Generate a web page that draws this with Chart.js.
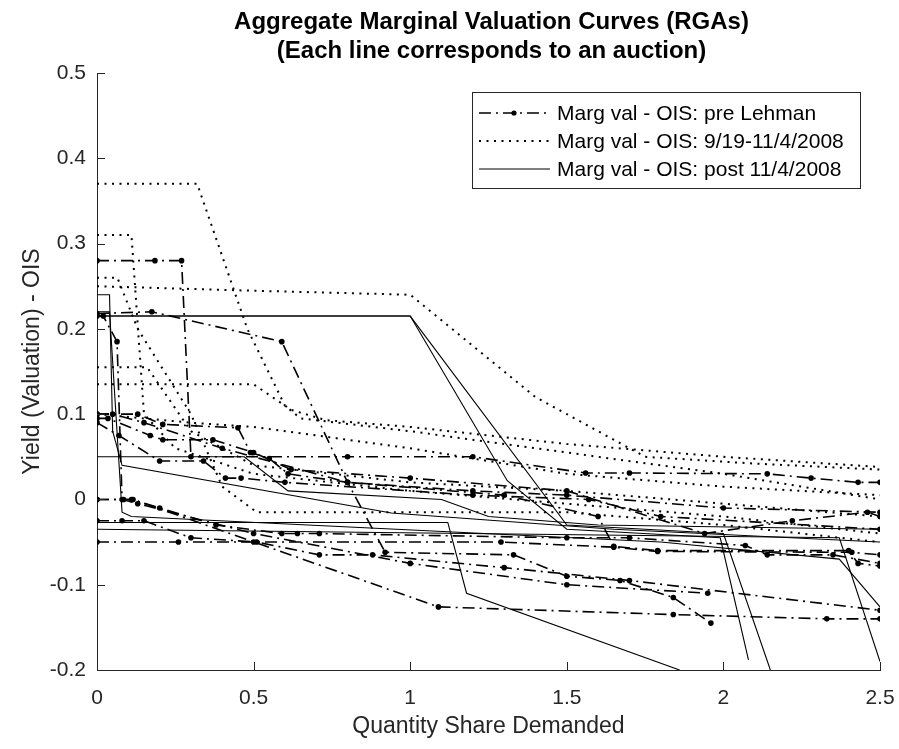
<!DOCTYPE html>
<html>
<head>
<meta charset="utf-8">
<script src="https://cdn.jsdelivr.net/npm/chart.js@4.4.1/dist/chart.umd.min.js"></script>
<style>
  html, body { margin: 0; padding: 0; background: #fff; }
  #wrap { width: 899px; height: 749px; }
</style>
</head>
<body>
<div id="wrap"><canvas id="chart" width="899" height="749"></canvas></div>
<script>
// axis ticks
const xTicks = [0, 0.5, 1, 1.5, 2, 2.5];
const yTicks = [-0.2, -0.1, 0, 0.1, 0.2, 0.3, 0.4, 0.5];

const legendLabels = [
  "Marg val - OIS: pre Lehman",
  "Marg val - OIS: 9/19-11/4/2008",
  "Marg val - OIS: post 11/4/2008"
];

// pre Lehman auctions (dash-dot with points)
const pre1 = [[0,0.28],[0.185,0.28],[0.27,0.28],[0.3,0.05],[0.8,0.05],[1.2,0.05],[1.56,0.031],[1.7,0.031],[2.14,0.03],[2.28,0.025],[2.43,0.02],[2.5,0.02]];
const pre2 = [[0,0.218],[0.175,0.22],[0.59,0.185],[0.8,0.02],[0.92,-0.062],[1.33,-0.065],[1.5,-0.09],[1.67,-0.095],[1.84,-0.115],[1.96,-0.145]];
const pre3 = [[0,0.215],[0.02,0.215],[0.064,0.185],[0.08,0.0],[0.13,-0.005],[0.5,-0.04],[1.0,-0.075],[1.5,-0.1],[1.95,-0.11]];
const pre4 = [[0,0.1],[0.13,0.1],[0.21,0.088],[0.45,0.084],[0.49,0.055],[0.55,0.048],[0.61,0.03],[0.8,0.02],[1.2,0.01],[1.5,0.005],[2.0,-0.01],[2.5,-0.015]];
const pre5 = [[0,0.095],[0.035,0.095],[0.17,0.075],[0.21,0.07],[0.37,0.07],[0.5,0.055],[0.62,0.035],[1.0,0.025],[1.5,0.01],[1.94,-0.04],[2.22,-0.025],[2.46,-0.015],[2.5,-0.02]];
const pre6 = [[0,0.09],[0.07,0.075],[0.2,0.045],[0.34,0.045],[0.41,0.025],[0.46,0.025],[0.6,0.02],[1.2,0.005],[1.57,0.0],[1.8,-0.02],[2.5,-0.035]];
const pre7 = [[0,0.0],[0.085,0.0],[0.115,0.0],[1.09,-0.126],[1.84,-0.135],[2.33,-0.14],[2.5,-0.14]];
const pre8 = [[0,-0.025],[0.08,-0.025],[0.15,-0.025],[0.3,-0.045],[0.51,-0.05],[0.71,-0.065],[0.88,-0.065],[1.3,-0.08],[1.7,-0.095],[2.5,-0.13]];
const pre9 = [[0,-0.05],[0.26,-0.05],[0.5,-0.05],[1.29,-0.05],[1.65,-0.056],[1.79,-0.061],[2.41,-0.062],[2.5,-0.065]];
const pre10 = [[0,0.0],[0.11,0.0],[0.2,-0.01],[0.38,-0.03],[0.59,-0.04],[0.64,-0.04],[0.71,-0.04],[1.5,-0.045],[1.7,-0.045],[2.07,-0.054],[2.14,-0.065],[2.35,-0.065],[2.5,-0.075]];
const pre11 = [[0,0.1],[0.05,0.1],[0.15,0.09],[0.4,0.06],[0.8,0.02],[1.3,0.005],[1.6,-0.02],[1.65,-0.055],[1.79,-0.06],[2.4,-0.06],[2.43,-0.075],[2.5,-0.078]];

// 9/19 - 11/4/2008 auctions (dotted)
const mid1 = [[0,0.37],[0.32,0.37],[0.48,0.2],[0.6,0.11],[0.65,0.095],[1.0,0.08],[1.5,0.055],[2.0,0.03],[2.5,0.0]];
const mid2 = [[0,0.25],[0.47,0.245],[1.0,0.24],[1.1,0.21],[1.4,0.12],[1.75,0.05],[2.1,0.042],[2.5,0.035]];
const mid3 = [[0,0.31],[0.11,0.31],[0.15,0.1],[0.25,0.06],[0.5,0.03],[1.0,0.01],[1.5,-0.005],[2.0,-0.02],[2.5,-0.04]];
const mid4 = [[0,0.26],[0.065,0.26],[0.13,0.2],[0.3,0.1],[0.4,0.015],[0.51,-0.015],[1.5,-0.015],[2.0,-0.03],[2.5,-0.05]];
const mid5 = [[0,0.155],[0.16,0.155],[0.3,0.08],[0.5,0.04],[1.0,0.02],[1.5,0.01],[2.0,-0.005],[2.5,-0.02]];
const mid6 = [[0,0.135],[0.5,0.135],[0.62,0.105],[0.73,0.093],[1.0,0.085],[1.5,0.065],[2.0,0.05],[2.5,0.038]];
const mid7 = [[0,0.1],[0.3,0.09],[0.5,0.085],[1.0,0.06],[1.5,0.03],[2.0,0.015],[2.5,0.005]];

// post 11/4/2008 auctions (solid)
const post1 = [[0,0.24],[0.04,0.24],[0.05,0.08],[0.08,0.04],[0.94,-0.016],[1.65,-0.035],[2.5,-0.05]];
const post2 = [[0,0.05],[0.47,0.05],[0.61,0.01],[1.1,0.0],[1.25,-0.02],[1.6,-0.03],[2.5,-0.035]];
const post3 = [[0,0.22],[0.04,0.22],[0.08,-0.015],[0.11,-0.02],[1.8,-0.05],[2.37,-0.07],[2.5,-0.126]];
const post4 = [[0,0.215],[1.0,0.215],[1.31,0.022],[1.5,-0.035],[1.99,-0.045],[2.08,-0.188]];
const post5 = [[0,0.215],[1.0,0.215],[1.5,-0.03],[2.0,-0.04],[2.15,-0.2]];
const post6 = [[0,-0.035],[2.37,-0.045],[2.5,-0.19]];
const post7 = [[0,-0.027],[1.12,-0.027],[1.18,-0.11],[1.86,-0.2]];

const preSeries = [pre1, pre2, pre3, pre4, pre5, pre6, pre7, pre8, pre9, pre10, pre11];
const midSeries = [mid1, mid2, mid3, mid4, mid5, mid6, mid7];
const postSeries = [post1, post2, post3, post4, post5, post6, post7];

const dashDot = [12, 5, 2, 5];
const dotted = [2, 5.5];

function toPoints(arr) {
  return arr.map(p => ({ x: p[0], y: p[1] }));
}

let datasets = [];
preSeries.forEach(s => datasets.push({
  data: toPoints(s), borderColor: "#000", borderWidth: 1.6, borderDash: dashDot,
  pointRadius: 2.8, pointBackgroundColor: "#000", pointBorderWidth: 0, fill: false, tension: 0
}));
midSeries.forEach(s => datasets.push({
  data: toPoints(s), borderColor: "#000", borderWidth: 2, borderDash: dotted,
  pointRadius: 0, fill: false, tension: 0
}));
postSeries.forEach(s => datasets.push({
  data: toPoints(s), borderColor: "#000", borderWidth: 1.1, pointRadius: 0, fill: false, tension: 0
}));

const FONT = "'Liberation Sans', Arial, sans-serif";
const AXIS_COLOR = "#262626";

// titles, inward ticks and the legend box
const decorPlugin = {
  id: "decor",
  afterDraw(chart) {
    const ctx = chart.ctx;
    const area = chart.chartArea;
    const xs = chart.scales.x, ys = chart.scales.y;
    ctx.save();
    ctx.strokeStyle = AXIS_COLOR;
    ctx.lineWidth = 1;
    ctx.setLineDash([]);
    xTicks.forEach(v => {
      const px = Math.round(xs.getPixelForValue(v)) + 0.5;
      ctx.beginPath(); ctx.moveTo(px, area.bottom); ctx.lineTo(px, area.bottom - 8); ctx.stroke();
    });
    yTicks.forEach(v => {
      const py = Math.round(ys.getPixelForValue(v)) + 0.5;
      ctx.beginPath(); ctx.moveTo(area.left, py); ctx.lineTo(area.left + 8, py); ctx.stroke();
    });

    const cx = (area.left + area.right) / 2;
    ctx.fillStyle = "#000";
    ctx.textAlign = "center";
    ctx.textBaseline = "middle";
    ctx.font = "bold 24px " + FONT;
    ctx.fillText("Aggregate Marginal Valuation Curves (RGAs)", cx + 3, 22);
    ctx.fillText("(Each line corresponds to an auction)", cx + 3, 51);

    ctx.fillStyle = AXIS_COLOR;
    ctx.font = "23px " + FONT;
    ctx.fillText("Quantity Share Demanded", cx, 727);
    ctx.save();
    ctx.translate(33, (area.top + area.bottom) / 2 - 10);
    ctx.rotate(-Math.PI / 2);
    ctx.fillText("Yield (Valuation) - OIS", 0, 0);
    ctx.restore();

    // legend
    const bx = 472, by = 92, bw = 388, bh = 96;
    ctx.fillStyle = "#fff";
    ctx.fillRect(bx, by, bw, bh);
    ctx.strokeStyle = AXIS_COLOR;
    ctx.strokeRect(bx + 0.5, by + 0.5, bw, bh);
    const styles = [
      { dash: dashDot, w: 1.6, marker: true },
      { dash: dotted, w: 2, marker: false },
      { dash: [], w: 1.1, marker: false }
    ];
    ctx.font = "21px " + FONT;
    ctx.textAlign = "left";
    legendLabels.forEach((label, i) => {
      const ly = by + 21 + i * 28;
      const st = styles[i];
      ctx.strokeStyle = "#000";
      ctx.lineWidth = st.w;
      ctx.setLineDash(st.dash);
      ctx.beginPath(); ctx.moveTo(479, ly); ctx.lineTo(550, ly); ctx.stroke();
      ctx.setLineDash([]);
      if (st.marker) {
        ctx.fillStyle = "#000";
        ctx.beginPath(); ctx.arc(514, ly, 2.6, 0, Math.PI * 2); ctx.fill();
      }
      ctx.fillStyle = "#000";
      ctx.fillText(label, 557, ly + 1);
    });
    ctx.restore();
  }
};

const ctx = document.getElementById("chart").getContext("2d");
window.chartInstance = new Chart(ctx, {
  type: "line",
  data: { datasets: datasets },
  plugins: [decorPlugin],
  options: {
    responsive: false,
    animation: false,
    layout: { padding: { top: 73, right: 19, left: 0, bottom: 0 } },
    plugins: { legend: { display: false }, tooltip: { enabled: false } },
    scales: {
      x: {
        type: "linear", min: 0, max: 2.5,
        afterBuildTicks: s => { s.ticks = xTicks.map(v => ({ value: v })); },
        afterFit: s => { s.height = 79; s.paddingLeft = 0; s.paddingRight = 0; },
        grid: { drawOnChartArea: false, drawTicks: false },
        border: { display: true, color: AXIS_COLOR, width: 1 },
        ticks: { color: AXIS_COLOR, font: { family: FONT, size: 21 }, padding: 16, maxRotation: 0,
                 callback: v => String(Number(v.toFixed(1))) }
      },
      y: {
        type: "linear", min: -0.2, max: 0.5,
        afterBuildTicks: s => { s.ticks = yTicks.map(v => ({ value: v })); },
        afterFit: s => { s.width = 97; s.paddingTop = 0; s.paddingBottom = 0; },
        grid: { drawOnChartArea: false, drawTicks: false },
        border: { display: true, color: AXIS_COLOR, width: 1 },
        ticks: { color: AXIS_COLOR, font: { family: FONT, size: 21 }, padding: 11,
                 callback: v => String(Number(v.toFixed(1))) }
      }
    }
  }
});
</script>
</body>
</html>
